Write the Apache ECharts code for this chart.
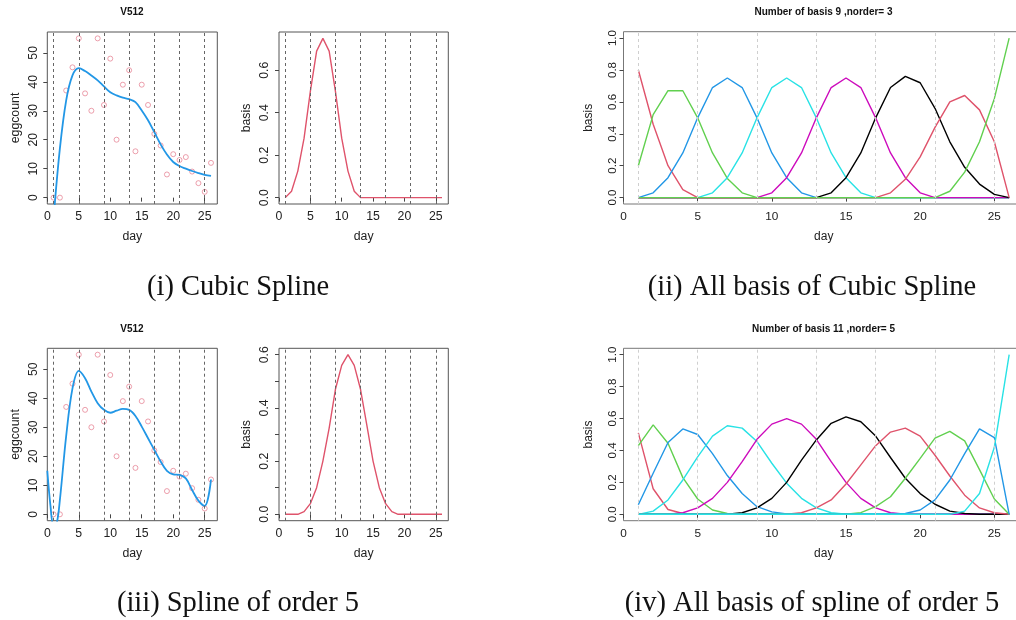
<!DOCTYPE html>
<html>
<head>
<meta charset="utf-8">
<script src="https://cdn.jsdelivr.net/npm/echarts@6/dist/echarts.min.js"></script>
<style>
html, body { margin: 0; padding: 0; background: #fff; }
#main { width: 1016px; height: 620px; }
</style>
</head>
<body>
<div id="main"></div>
<script>
// observed data (V512)
var days = [1, 2, 3, 4, 5, 6, 7, 8, 9, 10, 11, 12, 13, 14, 15, 16, 17, 18, 19, 20, 21, 22, 23, 24, 25, 26];
var eggcount = [0, 0, 37, 45, 55, 36, 30, 55, 32, 48, 20, 39, 44, 16, 39, 32, 22, 18, 8, 15, 13, 14, 9, 5, 2, 12];
var knots = [1, 5, 9, 13, 17, 21, 25];

// (i) cubic spline fit, read at each day
var fitCubic = [-7, 17, 33.6, 42.2, 44.7, 43.7, 42.2, 40.5, 38.4, 36.4, 35.3, 34.5, 34, 33, 30.1, 26.7, 22.6, 18.4, 14.9, 12.3, 10.9, 10, 9.2, 8.5, 7.9, 7.5];

// (iii) order 5 fit, starts at day 0
var fitDays5 = [0, 0.5, 1, 1.5, 2, 3, 4, 5, 6, 7, 8, 9, 10, 11, 12, 13, 14, 15, 16, 17, 18, 19, 20, 21, 22, 23, 24, 25, 26];
var fitOrder5 = [15, 3, -4, -3, 5, 27, 43.4, 49.4, 46.9, 42.3, 38.3, 36, 35, 35.7, 36.3, 36, 33.9, 30.2, 26.2, 22.2, 18.2, 15, 13.8, 13.6, 12.4, 8.4, 4.7, 2.9, 12];

// single basis shown next to each fit
var basisOne3 = [0, 0.03, 0.125, 0.28, 0.5, 0.69, 0.75, 0.69, 0.5, 0.28, 0.125, 0.03, 0, 0, 0, 0, 0, 0, 0, 0, 0, 0, 0, 0, 0, 0];
var basisOne5 = [0, 0, 0, 0.01, 0.04, 0.1, 0.2, 0.324, 0.47, 0.56, 0.6, 0.56, 0.47, 0.336, 0.2, 0.1, 0.04, 0.01, 0, 0, 0, 0, 0, 0, 0, 0];

// (ii) all basis, norder = 3
var b3_1 = [0.8, 0.46, 0.2, 0.05, 0, 0, 0, 0, 0, 0, 0, 0, 0, 0, 0, 0, 0, 0, 0, 0, 0, 0, 0, 0, 0, 0];
var b3_2 = [0.2, 0.52, 0.67, 0.67, 0.5, 0.28, 0.12, 0.03, 0, 0, 0, 0, 0, 0, 0, 0, 0, 0, 0, 0, 0, 0, 0, 0, 0, 0];
var b3_3 = [0, 0.03, 0.125, 0.28, 0.5, 0.69, 0.75, 0.69, 0.5, 0.28, 0.125, 0.03, 0, 0, 0, 0, 0, 0, 0, 0, 0, 0, 0, 0, 0, 0];
var b3_4 = [0, 0, 0, 0, 0, 0.03, 0.125, 0.28, 0.5, 0.69, 0.75, 0.69, 0.5, 0.28, 0.125, 0.03, 0, 0, 0, 0, 0, 0, 0, 0, 0, 0];
var b3_5 = [0, 0, 0, 0, 0, 0, 0, 0, 0, 0.03, 0.125, 0.28, 0.5, 0.69, 0.75, 0.69, 0.5, 0.28, 0.125, 0.03, 0, 0, 0, 0, 0, 0];
var b3_6 = [0, 0, 0, 0, 0, 0, 0, 0, 0, 0, 0, 0, 0, 0.03, 0.125, 0.28, 0.5, 0.69, 0.76, 0.72, 0.56, 0.35, 0.19, 0.085, 0.02, 0];
var b3_7 = [0, 0, 0, 0, 0, 0, 0, 0, 0, 0, 0, 0, 0, 0, 0, 0, 0, 0.03, 0.115, 0.255, 0.44, 0.6, 0.64, 0.55, 0.35, 0];
var b3_8 = [0, 0, 0, 0, 0, 0, 0, 0, 0, 0, 0, 0, 0, 0, 0, 0, 0, 0, 0, 0, 0, 0.04, 0.16, 0.35, 0.62, 1.0];

// (iv) all basis, norder = 5
var b5_1 = [0.51, 0.16, 0.03, 0.005, 0, 0, 0, 0, 0, 0, 0, 0, 0, 0, 0, 0, 0, 0, 0, 0, 0, 0, 0, 0, 0, 0];
var b5_2 = [0.43, 0.56, 0.445, 0.23, 0.096, 0.027, 0.005, 0, 0, 0, 0, 0, 0, 0, 0, 0, 0, 0, 0, 0, 0, 0, 0, 0, 0, 0];
var b5_3 = [0.06, 0.257, 0.45, 0.535, 0.5, 0.38, 0.243, 0.13, 0.048, 0.015, 0.003, 0, 0, 0, 0, 0, 0, 0, 0, 0, 0, 0, 0, 0, 0, 0];
var b5_4 = [0, 0.02, 0.09, 0.215, 0.36, 0.49, 0.555, 0.54, 0.456, 0.32, 0.195, 0.1, 0.04, 0.01, 0, 0, 0, 0, 0, 0, 0, 0, 0, 0, 0, 0];
var b5_5 = [0, 0, 0, 0.01, 0.04, 0.1, 0.2, 0.33, 0.47, 0.565, 0.6, 0.565, 0.47, 0.33, 0.2, 0.1, 0.04, 0.01, 0, 0, 0, 0, 0, 0, 0, 0];
var b5_6 = [0, 0, 0, 0, 0, 0, 0, 0.01, 0.04, 0.1, 0.2, 0.34, 0.466, 0.57, 0.61, 0.58, 0.49, 0.356, 0.226, 0.13, 0.063, 0.02, 0.005, 0, 0, 0];
var b5_7 = [0, 0, 0, 0, 0, 0, 0, 0, 0, 0, 0, 0.01, 0.04, 0.09, 0.19, 0.31, 0.43, 0.515, 0.54, 0.49, 0.37, 0.24, 0.12, 0.04, 0.01, 0];
var b5_8 = [0, 0, 0, 0, 0, 0, 0, 0, 0, 0, 0, 0, 0, 0, 0, 0.01, 0.048, 0.11, 0.226, 0.35, 0.477, 0.52, 0.46, 0.28, 0.096, 0];
var b5_9 = [0, 0, 0, 0, 0, 0, 0, 0, 0, 0, 0, 0, 0, 0, 0, 0, 0, 0, 0.005, 0.027, 0.09, 0.215, 0.38, 0.535, 0.48, 0];
var b5_10 = [0, 0, 0, 0, 0, 0, 0, 0, 0, 0, 0, 0, 0, 0, 0, 0, 0, 0, 0, 0, 0, 0, 0.02, 0.13, 0.42, 1.0];

var xTicks = [0, 5, 10, 15, 20, 25];
var eggTicks = [0, 10, 20, 30, 40, 50];
var basisTicks3 = [0, 0.2, 0.4, 0.6];
var basisTicks5 = [0, 0.1, 0.2, 0.3, 0.4, 0.5, 0.6];
var unitTicks = [0, 0.2, 0.4, 0.6, 0.8, 1.0];

var palette = ['#DF536B', '#61D04F', '#2297E6', '#28E2E5', '#CD0BBC', '#000000'];
var font = '"Liberation Sans", Arial, sans-serif';

function pairs(xs, ys) {
    return xs.map(function (x, i) { return [x, ys[i]]; });
}

var chart = echarts.init(document.getElementById('main'));

// plot boxes; the wide panels run past the right edge of the page like in the scan
var grids = [
    {left: 47.3, top: 32, width: 170, height: 172},
    {left: 279, top: 32, width: 169.3, height: 172},
    {left: 623.5, top: 31.7, width: 400.5, height: 172.3},
    {left: 47.3, top: 348.3, width: 170, height: 172.4},
    {left: 279, top: 348.3, width: 169.3, height: 172.4},
    {left: 623.5, top: 348.3, width: 400.5, height: 172.4}
];

function makeX(i, small) {
    return {
        type: 'value', gridIndex: i, min: 0, max: 27,
        name: 'day', nameLocation: 'middle', nameGap: 27,
        nameTextStyle: {fontFamily: font, fontSize: small ? 12 : 12.3, color: '#222'},
        axisLine: {show: false},
        splitLine: {show: false},
        axisTick: {show: true, length: 4, customValues: xTicks, lineStyle: {color: '#444'}},
        axisLabel: {customValues: xTicks, margin: 7, fontFamily: font, fontSize: small ? 11.8 : 12.3, color: '#222'}
    };
}

function makeY(i, name, min, max, ticks, labels, small, digits) {
    return {
        type: 'value', gridIndex: i, min: min, max: max,
        name: name, nameLocation: 'middle', nameGap: small ? 29 : 26,
        nameTextStyle: {fontFamily: font, fontSize: small ? 12 : 12.3, color: '#222'},
        axisLine: {show: false},
        splitLine: {show: false},
        axisTick: {show: true, length: 4, customValues: ticks, lineStyle: {color: '#444'}},
        axisLabel: {
            customValues: labels, rotate: 90, margin: small ? 4.5 : 8,
            fontFamily: font, fontSize: small ? 11.5 : 12.3, color: '#222',
            formatter: function (v) { return v.toFixed(digits); }
        }
    };
}

function knotLines(color) {
    return {
        silent: true, symbol: ['none', 'none'], animation: false,
        label: {show: false},
        lineStyle: {type: [3, 3], color: color, width: 1},
        data: knots.map(function (k) { return {xAxis: k}; })
    };
}

function basisLine(idx, data, color, marks) {
    var s = {
        type: 'line', xAxisIndex: idx, yAxisIndex: idx,
        data: pairs(days, data), showSymbol: false, symbol: 'none',
        lineStyle: {color: color, width: 1.4}, itemStyle: {color: color}
    };
    if (marks) s.markLine = marks;
    return s;
}

var series = [];

// (i)
series.push({
    type: 'scatter', xAxisIndex: 0, yAxisIndex: 0,
    data: pairs(days, eggcount), symbol: 'circle', symbolSize: 5,
    itemStyle: {color: 'rgba(0,0,0,0)', borderColor: '#E47A8D', borderWidth: 0.9},
    markLine: knotLines('#666')
});
series.push({
    type: 'line', xAxisIndex: 0, yAxisIndex: 0,
    data: pairs(days, fitCubic), smooth: 0.35, showSymbol: false, symbol: 'none',
    lineStyle: {color: '#2297E6', width: 1.8}
});

// (i) right: single basis
series.push(basisLine(1, basisOne3, '#DF536B', knotLines('#666')));

// (ii)
var all3 = [b3_1, b3_2, b3_3, b3_4, b3_5, b3_6, b3_7, b3_8];
all3.forEach(function (b, k) {
    series.push(basisLine(2, b, palette[k % 6], k === 0 ? knotLines('#cfcfcf') : null));
});

// (iii)
series.push({
    type: 'scatter', xAxisIndex: 3, yAxisIndex: 3,
    data: pairs(days, eggcount), symbol: 'circle', symbolSize: 5,
    itemStyle: {color: 'rgba(0,0,0,0)', borderColor: '#E47A8D', borderWidth: 0.9},
    markLine: knotLines('#666')
});
series.push({
    type: 'line', xAxisIndex: 3, yAxisIndex: 3,
    data: pairs(fitDays5, fitOrder5), smooth: 0.35, showSymbol: false, symbol: 'none',
    lineStyle: {color: '#2297E6', width: 1.8}
});

series.push(basisLine(4, basisOne5, '#DF536B', knotLines('#666')));

// (iv)
var all5 = [b5_1, b5_2, b5_3, b5_4, b5_5, b5_6, b5_7, b5_8, b5_9, b5_10];
all5.forEach(function (b, k) {
    series.push(basisLine(5, b, palette[k % 6], k === 0 ? knotLines('#cfcfcf') : null));
});

function txt(x, y, text, f) {
    return {type: 'text', x: x, y: y, silent: true,
        style: {text: text, font: f, fill: '#111', textAlign: 'center', textVerticalAlign: 'middle'}};
}

var titleFont = 'bold 10px ' + font;
var capFont = '28.5px "Liberation Serif", "Times New Roman", serif';

var option = {
    animation: false,
    backgroundColor: '#fff',
    grid: grids.map(function (g, i) {
        return {left: g.left, top: g.top, width: g.width, height: g.height,
            outerBoundsMode: 'none', containLabel: false,
            show: true, borderColor: i === 2 || i === 5 ? '#777' : '#555', borderWidth: 1,
            backgroundColor: 'transparent'};
    }),
    xAxis: [makeX(0, false), makeX(1, false), makeX(2, true), makeX(3, false), makeX(4, false), makeX(5, true)],
    yAxis: [
        makeY(0, 'eggcount', -2.2, 57.2, eggTicks, eggTicks, false, 0),
        makeY(1, 'basis', -0.03, 0.78, basisTicks3, basisTicks3, false, 1),
        makeY(2, 'basis', -0.04, 1.04, unitTicks, unitTicks, true, 1),
        makeY(3, 'eggcount', -2.2, 57.2, eggTicks, eggTicks, false, 0),
        makeY(4, 'basis', -0.024, 0.624, basisTicks5, [0, 0.2, 0.4, 0.6], false, 1),
        makeY(5, 'basis', -0.04, 1.04, unitTicks, unitTicks, true, 1)
    ],
    series: series,
    graphic: [
        txt(132, 12, 'V512', titleFont),
        txt(823.5, 12, 'Number of basis 9 ,norder= 3', titleFont),
        txt(132, 329, 'V512', titleFont),
        txt(823.5, 329, 'Number of basis 11 ,norder= 5', titleFont),
        txt(238, 288, '(i) Cubic Spline', capFont),
        txt(812, 288, '(ii) All basis of Cubic Spline', capFont),
        txt(238, 604, '(iii) Spline of order 5', capFont),
        txt(812, 604, '(iv) All basis of spline of order 5', capFont)
    ]
};

chart.setOption(option);
</script>
</body>
</html>
